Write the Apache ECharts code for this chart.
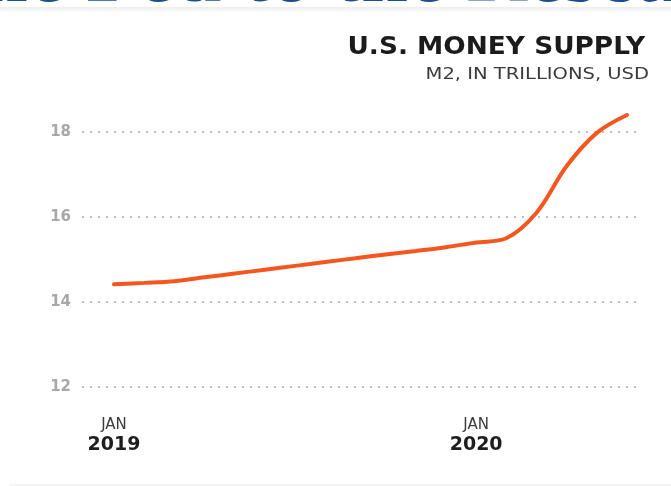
<!DOCTYPE html>
<html>
<head>
<meta charset="utf-8">
<script src="https://cdn.jsdelivr.net/npm/echarts@6/dist/echarts.min.js"></script>
<style>
  html, body { margin: 0; padding: 0; background: #fff; }
  #chart { width: 671px; height: 486px; }
</style>
</head>
<body>
<div id="chart"></div>
<script>
// Months since Jan 2019 (0 = Jan 2019, 12 = Jan 2020)
const months = [0, 1, 2, 3, 4, 5, 6, 7, 8, 9, 10, 11, 12, 13, 14, 15, 16, 17];
// M2 money stock, trillions of USD
const m2 = [14.42, 14.45, 14.49, 14.58, 14.67, 14.76, 14.85, 14.94, 15.03, 15.12, 15.20, 15.29, 15.40, 15.50, 16.10, 17.20, 17.98, 18.40];
// Labelled ticks on the time axis
const xTickValues = [0, 12];
const xTickMonth = ['JAN', 'JAN'];
const xTickYear = ['2019', '2020'];
const yTicks = [12, 14, 16, 18];

const labelFont = '"DejaVu Sans", sans-serif';

const chart = echarts.init(document.getElementById('chart'), null, { renderer: 'canvas' });

chart.setOption({
  backgroundColor: '#ffffff',
  animation: false,
  graphic: [
    // cropped banner headline along the top edge
    {
      type: 'text', left: -47, top: -63, silent: true,
      style: {
        text: 'the Fed to the Rescue',
        font: 'bold 84px "Liberation Serif", serif',
        fill: '#1a4e8d'
      }
    },
    {
      type: 'rect', left: 0, top: 7, silent: true,
      shape: { width: 671, height: 6 },
      style: {
        fill: new echarts.graphic.LinearGradient(0, 0, 0, 1, [
          { offset: 0, color: 'rgba(0,0,0,0.07)' },
          { offset: 1, color: 'rgba(0,0,0,0)' }
        ])
      }
    },
    // chart heading, right aligned
    {
      type: 'text', right: 26, top: 35, silent: true, scaleX: 1.055,
      style: {
        text: 'U.S. MONEY SUPPLY',
        font: 'bold 25px "DejaVu Sans", sans-serif',
        fill: '#1b1b1b'
      }
    },
    {
      type: 'text', right: 22, top: 67, silent: true, scaleX: 1.22,
      style: {
        text: 'M2, IN TRILLIONS, USD',
        font: '16px "DejaVu Sans", sans-serif',
        fill: '#3a3a3a'
      }
    },
    {
      type: 'line', silent: true,
      shape: { x1: 10, y1: 485, x2: 671, y2: 485 },
      style: { stroke: '#ececec', lineWidth: 1 }
    }
  ],
  grid: { left: 82, right: 31, top: 132, bottom: 99, containLabel: false },
  xAxis: {
    type: 'value',
    min: -1.06,
    max: 17.43,
    axisLine: { show: false },
    axisTick: { show: false },
    splitLine: { show: false },
    axisLabel: {
      customValues: xTickValues,
      margin: 30,
      formatter: function (v) {
        const i = xTickValues.indexOf(v);
        if (i < 0) return '';
        return '{m|' + xTickMonth[i] + '}\n{y|' + xTickYear[i] + '}';
      },
      rich: {
        m: { fontFamily: labelFont, fontSize: 15, fontWeight: 'normal', color: '#3c3c3c', lineHeight: 17 },
        y: { fontFamily: labelFont, fontSize: 19, fontWeight: 'bold', color: '#1e1e1e', lineHeight: 22 }
      }
    }
  },
  yAxis: {
    type: 'value',
    min: yTicks[0],
    max: yTicks[yTicks.length - 1],
    interval: 2,
    axisLine: { show: false },
    axisTick: { show: false },
    axisLabel: {
      margin: 11,
      fontFamily: labelFont,
      fontSize: 15,
      fontWeight: 'bold',
      color: '#a8a8a8'
    },
    splitLine: {
      show: true,
      lineStyle: { color: '#bdbdbd', width: 2, type: [2, 6] }
    }
  },
  series: [{
    type: 'line',
    data: months.map((m, i) => [m, m2[i]]),
    smooth: 0.35,
    clip: false,
    showSymbol: false,
    lineStyle: { color: '#f4561f', width: 4, cap: 'round' }
  }]
});
</script>
</body>
</html>
